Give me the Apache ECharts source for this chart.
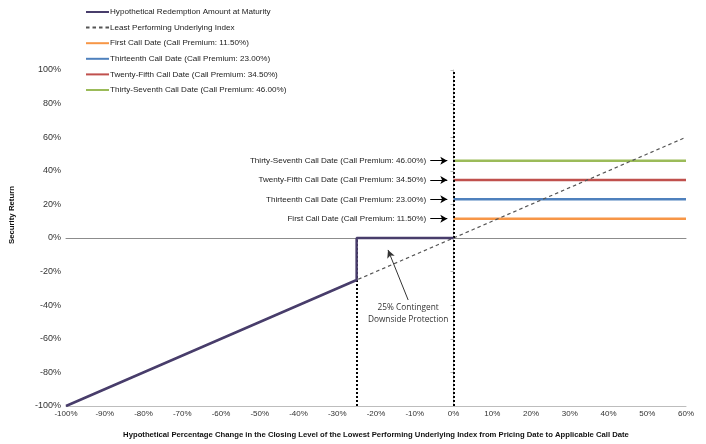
<!DOCTYPE html>
<html lang="en">
<head>
  <meta charset="UTF-8">
  <title>Security Return</title>
  <style>
    html, body { margin: 0; padding: 0; background: #fff; }
    #main { width: 706px; height: 444px; }
  </style>
</head>
<body>
  <div id="main"></div>
  <script src="https://cdn.jsdelivr.net/npm/echarts@6/dist/echarts.min.js"></script>
  <script>
    // series data, in percent
    const redemption = [[-100, -100], [-25, -25], [-25, 0], [0, 0]];
    const underlying = [[-100, -100], [60, 60]];
    const callNames = [
      'First Call Date (Call Premium: 11.50%)',
      'Thirteenth Call Date (Call Premium: 23.00%)',
      'Twenty-Fifth Call Date (Call Premium: 34.50%)',
      'Thirty-Seventh Call Date (Call Premium: 46.00%)'
    ];
    const callPremiums = [11.5, 23, 34.5, 46];
    const callColors = ['#F79646', '#4F81BD', '#C0504D', '#9BBB59'];
    const callStart = 0;
    const xEnd = 60;
    const barrier = -25;

    const font = '"Liberation Sans", Arial, sans-serif';

    let myChart = echarts.init(document.getElementById('main'));

    let callSeries = callPremiums.map(function (p, i) {
      return {
        name: callNames[i],
        type: 'line',
        symbol: 'none',
        data: [[callStart, p], [xEnd, p]],
        lineStyle: { color: callColors[i], width: 2.5 },
        itemStyle: { color: callColors[i] },
        z: 3,
        // little arrow pointing at the line, with its label to the left
        markLine: {
          silent: true,
          symbol: ['none', 'arrow'],
          symbolSize: [6, 7],
          lineStyle: { color: '#000', width: 1, type: 'solid' },
          label: {
            show: true,
            position: 'start',
            distance: 4,
            formatter: callNames[i],
            color: '#222',
            fontSize: 8.1,
            fontFamily: font
          },
          data: [[{ coord: [-6, p] }, { coord: [-1.6, p] }]]
        }
      };
    });

    let option = {
      animation: false,
      textStyle: { fontFamily: font },
      legend: {
        orient: 'vertical',
        left: 85,
        top: 7,
        padding: 0,
        itemWidth: 23,
        itemHeight: 10,
        itemGap: 5.6,
        itemStyle: { opacity: 0 },
        textStyle: { fontSize: 8.1, lineHeight: 10, color: '#222', fontFamily: font, padding: [0, 0, 0, -4] },
        data: ['Hypothetical Redemption Amount at Maturity', 'Least Performing Underlying Index'].concat(callNames)
      },
      grid: { left: 66, right: 20, top: 70, bottom: 38, outerBoundsMode: 'none' },
      xAxis: [{
        type: 'value',
        min: -100,
        max: 60,
        interval: 10,
        name: 'Hypothetical Percentage Change in the Closing Level of the Lowest Performing Underlying Index from Pricing Date to Applicable Call Date',
        nameLocation: 'middle',
        nameGap: 25,
        nameTextStyle: { fontSize: 7.7, fontWeight: 'bold', color: '#111', fontFamily: font },
        axisLine: { onZero: false, lineStyle: { color: '#bdbdbd' } },
        axisTick: { show: false },
        splitLine: { show: false },
        axisLabel: { formatter: '{value}%', fontSize: 8, color: '#333', margin: 4, fontFamily: font }
      }, {
        // zero line across the plot
        type: 'value',
        min: -100,
        max: 60,
        position: 'bottom',
        axisLine: { onZero: true, lineStyle: { color: '#8c8c8c' } },
        axisTick: { show: false },
        axisLabel: { show: false },
        splitLine: { show: false }
      }],
      yAxis: {
        type: 'value',
        min: -100,
        max: 100,
        interval: 20,
        axisLine: { show: true, lineStyle: { color: '#bdbdbd' } },
        axisTick: { show: true, length: 3, lineStyle: { color: '#bdbdbd' } },
        splitLine: { show: false },
        axisLabel: { formatter: '{value}%', fontSize: 9, color: '#333', margin: 5, fontFamily: font }
      },
      graphic: [{
        type: 'text',
        left: 8,
        top: 186,
        rotation: Math.PI / 2,
        style: {
          text: 'Security Return',
          fontSize: 7.8,
          fontWeight: 'bold',
          fill: '#111',
          fontFamily: font
        }
      }],
      series: [
        {
          name: 'Hypothetical Redemption Amount at Maturity',
          type: 'line',
          symbol: 'none',
          data: redemption,
          lineStyle: { color: '#483D6B', width: 2.5 },
          itemStyle: { color: '#483D6B' },
          z: 5,
          markLine: {
            silent: true,
            symbol: 'none',
            lineStyle: { color: '#000', width: 2, type: [2, 2] },
            label: { show: false },
            data: [
              [{ coord: [barrier, -100] }, { coord: [barrier, 0] }],
              [{ coord: [0, -100] }, { coord: [0, 100] }]
            ]
          }
        },
        {
          name: 'Least Performing Underlying Index',
          type: 'line',
          symbol: 'none',
          data: underlying,
          lineStyle: { color: '#555', width: 1.2, type: [3.5, 3] },
          itemStyle: { color: '#555' },
          z: 4,
          markLine: {
            silent: true,
            symbol: ['none', 'arrow'],
            symbolSize: [6, 8],
            lineStyle: { color: '#333', width: 1, type: 'solid' },
            label: { show: false },
            data: [[{ coord: [-11.7, -36.9] }, { coord: [-16.9, -7.1] }]]
          },
          markPoint: {
            silent: true,
            symbol: 'rect',
            symbolSize: 0,
            label: {
              show: true,
              formatter: '25% Contingent\nDownside Protection',
              color: '#333',
              fontSize: 8.3,
              lineHeight: 12,
              fontFamily: '"Open Sans", sans-serif',
              align: 'center',
              verticalAlign: 'middle'
            },
            data: [{ coord: [-11.7, -45.3] }]
          }
        }
      ].concat(callSeries)
    };
    myChart.setOption(option);
  </script>
</body>
</html>
